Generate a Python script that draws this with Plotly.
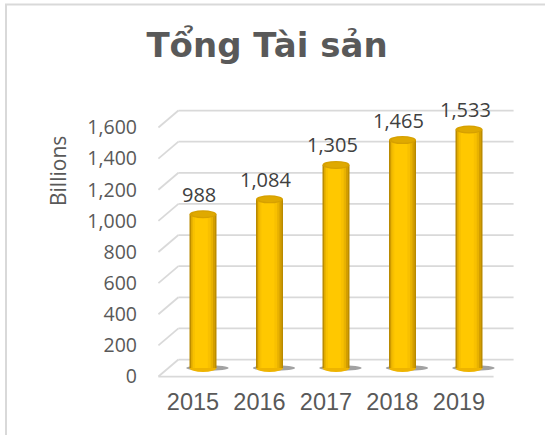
import plotly.graph_objects as go

# ---------------- data ----------------
years = [2015, 2016, 2017, 2018, 2019]
values = [988, 1084, 1305, 1465, 1533]
y_ticks = [0, 200, 400, 600, 800, 1000, 1200, 1400, 1600]
title_text = "Tổng Tài sản"
y_title = "Billions"

# ---------------- geometry (pixels) ----------------
W, H = 545, 435
L, R, T, B = 150, 520, 95, 385          # plot area box
PXY = 66.5                              # px per year
PXU = 0.1556                            # px per value unit
MID_X0, MID_Y0 = 203, 368               # pixel of first year / zero on the bar plane
DX, DY = 10, 8.5                        # half-depth of the 3D box in px

ddx = DX / PXY
ddy = DY / PXU


def xr(px0):
    return [years[0] + (L - px0) / PXY, years[0] + (R - px0) / PXY]


def yr(py0):
    return [(py0 - B) / PXU, (py0 - T) / PXU]


BW = 27 / PXY                 # bar (cylinder) width in x units
EH = 4 / PXU                  # half height of the ellipses in y units
x_lo = years[0] - 0.52
x_hi = years[-1] + 0.52

GRID = "#d9d9d9"
TXT = "#595959"

fig = go.Figure()

# invisible trace so that the front (label) axes get drawn
fig.add_trace(go.Scatter(x=years, y=[0] * len(years), mode="markers",
                         marker=dict(opacity=0), hoverinfo="skip", showlegend=False))

# cylinder body: layered bars from dark edge to bright centre
layers = [
    (1.00, 0.00, "#b98a00"),
    (0.90, 0.00, "#d29d00"),
    (0.80, -0.01, "#e8b200"),
    (0.66, -0.015, "#f8c000"),
    (0.48, -0.02, "#ffc800"),
]
for frac, shift, col in layers:
    w = BW * frac
    fig.add_trace(go.Bar(
        x=years, y=values, width=w, offset=-w / 2 + shift * BW * 3,
        marker=dict(color=col, line=dict(width=0)),
        xaxis="x2", yaxis="y2", hoverinfo="skip", showlegend=False,
    ))

shapes = []
# back-wall gridlines + left diagonals
for v in y_ticks:
    shapes.append(dict(type="line", xref="x2", yref="y2", layer="below",
                       x0=x_lo + ddx, x1=x_hi + ddx, y0=v + ddy, y1=v + ddy,
                       line=dict(color=GRID, width=1.75)))
    shapes.append(dict(type="line", xref="x2", yref="y2", layer="below",
                       x0=x_lo - ddx, x1=x_lo + ddx, y0=v - ddy, y1=v + ddy,
                       line=dict(color=GRID, width=1.75)))
# front floor edge
shapes.append(dict(type="line", xref="x2", yref="y2", layer="below",
                   x0=x_lo - ddx, x1=x_hi - ddx, y0=-ddy, y1=-ddy,
                   line=dict(color=GRID, width=1.75)))

for x, v in zip(years, values):
    # shadow on the floor
    shapes.append(dict(type="circle", xref="x2", yref="y2", layer="below",
                       x0=x - BW * 0.62, x1=x + BW * 0.95, y0=-EH * 0.7, y1=EH * 0.7,
                       fillcolor="rgba(70,70,70,0.5)", line=dict(width=0)))
    # rounded bottom of the cylinder
    shapes.append(dict(type="circle", xref="x2", yref="y2", layer="below",
                       x0=x - BW / 2, x1=x + BW / 2, y0=-EH, y1=EH,
                       fillcolor="#eeb400", line=dict(width=0)))
    # top cap
    shapes.append(dict(type="circle", xref="x2", yref="y2", layer="above",
                       x0=x - BW / 2, x1=x + BW / 2, y0=v - EH, y1=v + EH,
                       fillcolor="#d6a000", line=dict(width=0)))
    shapes.append(dict(type="circle", xref="x2", yref="y2", layer="above",
                       x0=x - BW * 0.40, x1=x + BW * 0.44, y0=v - EH * 0.7, y1=v + EH * 0.7,
                       fillcolor="#dfa900", line=dict(width=0)))

# chart-area border (only left & top visible in the crop)
shapes.append(dict(type="rect", xref="paper", yref="paper", layer="above",
                   x0=(6 - L) / (R - L), x1=2.0, y0=-2.0, y1=(B - 4.5) / (B - T),
                   line=dict(color=GRID, width=2), fillcolor="rgba(0,0,0,0)"))

annotations = []
for x, v in zip(years, values):
    annotations.append(dict(x=x, y=v, xref="x2", yref="y2", text=f"{v:,}",
                            showarrow=False, yanchor="middle", xanchor="center",
                            yshift=20, xshift=-4,
                            font=dict(family="Open Sans", size=20, color="#404040")))

# y-axis title, placed high as in the reference
annotations.append(dict(x=(58 - L) / (R - L), y=(B - 171) / (B - T), xref="paper", yref="paper",
                        text=y_title, textangle=-90, showarrow=False,
                        xanchor="center", yanchor="middle",
                        font=dict(family="Open Sans", size=21, color=TXT)))

fig.update_layout(
    width=W, height=H,
    margin=dict(l=L, r=W - R, t=T, b=H - B, autoexpand=False),
    paper_bgcolor="white", plot_bgcolor="white",
    barmode="overlay",
    showlegend=False,
    title=dict(text=f"<b>{title_text}</b>", x=267 / W, xref="container", xanchor="center",
               y=1 - 45 / H, yref="container", yanchor="middle",
               font=dict(family="DejaVu Sans", size=34, color=TXT)),
    xaxis=dict(range=xr(MID_X0 - DX), tickvals=years, ticktext=[str(y) for y in years],
               showgrid=False, zeroline=False, showline=False, ticks="",
               tickfont=dict(family="Liberation Sans", size=23.5, color=TXT)),
    yaxis=dict(range=yr(MID_Y0 + DY), tickvals=y_ticks, ticktext=[f"{v:,}" for v in y_ticks],
               showgrid=False, zeroline=False, showline=False, ticks="",
               ticklabelstandoff=12,
               tickfont=dict(family="Open Sans", size=19.5, color=TXT)),
    xaxis2=dict(range=xr(MID_X0), overlaying="x", visible=False),
    yaxis2=dict(range=yr(MID_Y0), overlaying="y", visible=False),
    shapes=shapes,
    annotations=annotations,
)

fig.write_html("out.html", config={"displayModeBar": False},
               post_script="document.body.style.margin='0';")
